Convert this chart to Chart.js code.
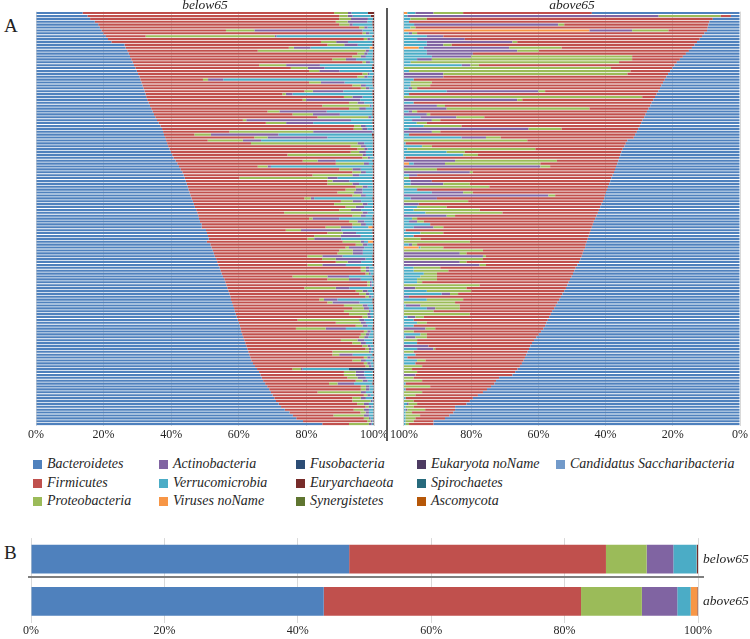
<!DOCTYPE html>
<html>
<head>
<meta charset="utf-8">
<script src="https://cdn.jsdelivr.net/npm/chart.js@4.4.1/dist/chart.umd.min.js"></script>
<style>
  html, body { margin: 0; padding: 0; background: #fff; }
  #page { position: relative; width: 750px; height: 639px; overflow: hidden; font-family: "Liberation Serif", "Times New Roman", serif; }
  .box { position: absolute; }
  .letter { position: absolute; font-size: 19px; color: #222; line-height: 20px; }
  .leg { position: absolute; font-style: italic; font-size: 14px; color: #262626; white-space: nowrap; line-height: 16px; }
  .leg i { display: inline-block; width: 9px; height: 9px; margin-right: 5px; vertical-align: -1px; }
</style>
</head>
<body>
<div id="page">
  <div class="letter" style="left:4px;top:16px">A</div>
  <div class="letter" style="left:4px;top:543px">B</div>
  <div class="box" style="left:0;top:0;width:390px;height:445px"><canvas id="belowChart" width="390" height="445"></canvas></div>
  <div class="box" style="left:388px;top:0;width:362px;height:445px"><canvas id="aboveChart" width="362" height="445"></canvas></div>
  <div class="box" style="left:386px;top:8px;width:2px;height:433px;background:#595959"></div>
  <div id="legend"></div>
  <div class="box" style="left:0;top:525px;width:750px;height:114px"><canvas id="summaryChart" width="750" height="114"></canvas></div>
  <div class="box" style="left:28px;top:576px;width:676px;height:2px;background:#7f7f7f"></div>
</div>
<script>
// ---- colours (Excel palette) ----
const phylumNames = [
    'Bacteroidetes', 'Firmicutes', 'Proteobacteria', 'Actinobacteria', 'Verrucomicrobia',
    'Viruses noName', 'Fusobacteria', 'Euryarchaeota', 'Synergistetes', 'Eukaryota noName',
    'Spirochaetes', 'Ascomycota', 'Candidatus Saccharibacteria'
];
const phylumColors = [
    '#4F81BD', '#C0504D', '#9BBB59', '#8064A2', '#4BACC6',
    '#F79646', '#2C4D75', '#772C2A', '#5F7530', '#4D3B62',
    '#276A7C', '#B65708', '#729ACA'
];

// ---- panel A, below65 (one value per sample, top row first) ----
const below65Bact = [
    13.8, 15.2, 16.0, 17.4, 18.4, 18.9, 19.4, 19.9, 20.8, 21.3,
    22.3, 26.2, 26.7, 27.0, 27.4, 27.8, 28.2, 28.6, 29.0, 29.4,
    29.8, 30.2, 30.6, 30.9, 31.2, 31.5, 31.8, 32.1, 32.4, 32.6,
    32.9, 33.3, 33.7, 34.1, 34.5, 34.9, 35.3, 35.8, 36.3, 36.8,
    37.3, 37.6, 37.9, 38.2, 38.5, 38.8, 39.1, 39.5, 39.9, 40.3,
    40.7, 41.3, 41.8, 42.3, 42.8, 43.3, 43.7, 44.0, 44.3, 44.6,
    44.9, 45.1, 45.4, 45.7, 46.0, 46.4, 46.7, 47.0, 47.4, 47.7,
    48.0, 48.2, 48.5, 49.0, 49.6, 50.3, 50.6, 50.9, 51.1, 51.3,
    51.6, 51.9, 52.3, 52.6, 52.9, 53.3, 53.6, 53.9, 54.3, 54.6,
    54.9, 55.3, 55.7, 56.0, 56.3, 56.6, 56.9, 57.2, 57.5, 57.7,
    58.0, 58.3, 58.6, 58.8, 59.1, 59.4, 59.7, 60.0, 60.3, 60.5,
    60.7, 61.0, 61.3, 61.6, 61.9, 62.2, 62.5, 62.8, 63.1, 63.4,
    63.7, 64.2, 64.8, 65.4, 66.0, 66.4, 66.8, 67.2, 67.8, 68.4,
    69.0, 69.5, 70.0, 70.5, 71.0, 71.8, 72.5, 73.6, 75.0, 76.0,
    77.0, 79.0, 84.7
];
const below65Firm = [
    74.4, 74.5, 73.7, 71.3, 71.3, 76.7, 36.8, 76.7, 11.8, 75.7,
    62.0, 60.0, 48.7, 38.6, 67.7, 65.8, 59.5, 68.0, 37.0, 46.0,
    51.0, 66.4, 64.5, 18.5, 49.6, 62.1, 64.3, 47.3, 40.5, 58.5,
    46.0, 59.3, 51.0, 58.5, 34.0, 41.0, 48.0, 25.4, 31.7, 57.3,
    56.7, 19.6, 9.0, 26.4, 12.3, 24.8, 54.0, 55.6, 53.2, 34.1,
    55.9, 37.6, 46.9, 23.3, 46.9, 50.3, 38.1, 16.2, 41.9, 41.6,
    49.7, 46.5, 43.8, 47.9, 33.4, 43.8, 41.5, 44.6, 42.3, 25.7,
    45.6, 32.6, 44.1, 44.6, 37.1, 23.6, 35.6, 31.4, 29.2, 40.8,
    43.0, 39.7, 37.4, 36.6, 27.4, 31.4, 35.1, 26.4, 41.8, 41.5,
    42.6, 20.6, 30.5, 42.0, 41.7, 22.8, 37.7, 38.4, 40.0, 26.1,
    28.2, 32.8, 35.0, 32.3, 33.5, 37.2, 17.7, 28.7, 34.3, 16.4,
    36.3, 35.1, 34.3, 28.6, 31.7, 34.4, 35.0, 24.9, 24.6, 33.6,
    29.9, 32.8, 32.7, 10.5, 25.1, 24.7, 25.3, 27.4, 18.9, 27.7,
    27.1, 13.8, 27.0, 23.1, 22.6, 23.2, 25.0, 20.4, 21.0, 12.0,
    20.0, 19.0, 7.9
];
const below65Proteo = [
    4.1, 2.5, 3.5, 3.5, 3.0, 1.5, 8.4, 1.0, 38.4, 1.0,
    4.5, 5.0, 1.5, 31.9, 2.0, 2.5, 4.0, 1.0, 8.0, 5.0,
    3.0, 1.5, 2.0, 1.5, 3.5, 2.5, 1.5, 2.5, 1.0, 2.5,
    1.0, 2.5, 14.0, 3.0, 3.5, 6.0, 15.0, 1.0, 6.0, 2.0,
    2.5, 24.8, 4.9, 3.9, 10.4, 31.5, 3.0, 2.0, 2.5, 22.2,
    1.5, 4.4, 8.3, 2.9, 3.9, 2.5, 11.8, 26.0, 1.5, 7.4,
    2.0, 3.0, 4.9, 2.5, 1.9, 3.5, 8.4, 3.0, 3.5, 23.2,
    2.5, 1.0, 2.5, 2.5, 4.5, 4.5, 4.5, 7.9, 2.0, 5.4,
    2.0, 1.0, 4.0, 4.5, 4.4, 4.0, 3.5, 4.4, 1.5, 1.5,
    1.0, 10.3, 6.4, 0.8, 0.8, 9.3, 2.0, 2.0, 1.0, 1.4,
    1.5, 5.5, 3.4, 7.4, 5.4, 1.5, 18.2, 7.4, 2.0, 8.8,
    1.0, 1.5, 1.5, 4.9, 2.5, 1.5, 1.0, 10.8, 2.0, 1.0,
    2.5, 1.0, 1.0, 2.5, 3.5, 3.5, 3.0, 2.0, 2.5, 1.5,
    1.5, 12.8, 1.0, 2.5, 5.4, 2.0, 1.0, 3.0, 1.5, 9.0,
    1.5, 1.0, 5.9
];
const below65Actino = [
    1.0, 1.5, 5.0, 5.8, 1.0, 1.0, 32.0, 1.0, 0.5, 0.8,
    3.5, 4.0, 5.0, 1.0, 1.0, 1.5, 3.0, 1.2, 10.0, 5.0,
    6.0, 0.5, 1.0, 4.5, 7.0, 1.5, 1.0, 9.0, 2.0, 3.0,
    16.0, 2.0, 0.5, 2.0, 14.0, 8.0, 0.8, 31.0, 8.0, 1.5,
    1.5, 17.5, 20.0, 17.7, 5.4, 2.0, 1.5, 1.0, 2.0, 1.0,
    0.7, 5.4, 1.5, 1.0, 2.5, 1.5, 2.0, 3.0, 5.0, 2.0,
    1.5, 2.0, 2.5, 1.5, 1.0, 2.5, 1.5, 2.5, 3.0, 1.5,
    1.5, 7.9, 2.0, 1.5, 3.5, 12.0, 4.0, 5.9, 8.0, 1.0,
    1.5, 4.5, 3.0, 3.0, 6.0, 8.8, 4.0, 7.0, 1.0, 1.0,
    0.5, 6.4, 3.5, 0.5, 0.5, 4.0, 1.5, 1.0, 0.7, 4.0,
    8.0, 1.5, 1.5, 0.5, 0.8, 1.0, 1.5, 1.5, 1.5, 6.0,
    1.0, 1.0, 1.2, 2.0, 1.5, 0.8, 0.7, 0.5, 4.0, 1.0,
    1.5, 1.0, 0.7, 0.5, 2.5, 2.5, 2.5, 1.5, 4.9, 1.0,
    1.0, 1.5, 1.0, 1.5, 0.5, 1.5, 0.7, 1.5, 1.0, 1.5,
    0.5, 0.5, 0.8
];
const below65Verruco = [
    4.9, 5.3, 1.5, 1.5, 5.8, 1.5, 3.0, 1.2, 28.5, 1.0,
    7.2, 4.3, 17.6, 1.2, 1.5, 2.0, 4.8, 1.0, 15.5, 14.0,
    9.7, 1.2, 1.5, 44.1, 8.2, 2.0, 1.2, 8.6, 23.6, 3.0,
    3.6, 2.5, 0.5, 2.0, 13.5, 9.6, 0.6, 6.3, 17.5, 2.0,
    1.6, 0.3, 27.7, 13.3, 33.0, 2.5, 2.0, 1.5, 2.0, 2.0,
    1.0, 10.8, 1.2, 30.0, 3.5, 2.0, 4.0, 10.3, 6.8, 4.0,
    1.5, 3.0, 3.0, 2.0, 17.2, 3.4, 1.6, 2.5, 3.4, 1.7,
    2.0, 9.8, 2.5, 2.0, 4.8, 9.1, 4.8, 3.5, 9.2, 1.2,
    1.5, 2.5, 2.9, 2.9, 8.8, 2.0, 3.4, 7.8, 1.2, 1.2,
    0.8, 6.9, 3.5, 0.5, 0.5, 6.8, 1.5, 1.2, 0.6, 10.3,
    3.8, 1.6, 1.2, 0.8, 1.0, 0.7, 2.6, 2.1, 1.5, 7.8,
    0.8, 1.2, 1.5, 2.5, 2.0, 0.9, 0.6, 0.8, 5.8, 0.8,
    2.0, 0.8, 0.6, 13.7, 2.5, 2.5, 2.0, 1.5, 5.4, 1.2,
    1.2, 2.0, 0.8, 2.0, 0.3, 1.3, 0.6, 1.3, 1.3, 1.3,
    0.8, 0.3, 0.5
];
const below65Eury = [
    1.8, 1.0, 0.3, 0.5, 0.5, 0.4, 0.4, 0.2, 0.5, 0.2,
    0.5, 0.5, 0.5, 0.3, 0.4, 0.4, 0.5, 0.2, 0.5, 0.6,
    0.5, 0.2, 0.4, 0.5, 0.5, 0.4, 0.2, 0.5, 0.5, 0.4,
    0.5, 0.4, 0.3, 0.4, 0.5, 0.5, 0.3, 0.5, 0.5, 0.4,
    0.4, 0.2, 0.6, 0.5, 0.4, 0.4, 0.4, 0.4, 0.4, 0.4,
    0.2, 0.5, 0.3, 0.5, 0.4, 0.4, 0.4, 0.5, 0.5, 0.4,
    0.4, 0.4, 0.4, 0.4, 0.5, 0.4, 0.3, 0.4, 0.4, 0.2,
    0.4, 0.5, 0.4, 0.4, 0.5, 0.5, 0.5, 0.4, 0.5, 0.3,
    0.4, 0.4, 0.4, 0.4, 0.5, 0.5, 0.4, 0.5, 0.2, 0.2,
    0.2, 0.5, 0.4, 0.2, 0.2, 0.5, 0.4, 0.2, 0.2, 0.5,
    0.5, 0.3, 0.3, 0.2, 0.2, 0.2, 0.3, 0.3, 0.4, 0.5,
    0.2, 0.2, 0.2, 0.4, 0.4, 0.2, 0.2, 0.2, 0.5, 0.2,
    0.4, 0.2, 0.2, 0.0, 0.4, 0.4, 0.4, 0.4, 0.5, 0.2,
    0.2, 0.4, 0.2, 0.4, 0.2, 0.2, 0.2, 0.2, 0.2, 0.2,
    0.2, 0.2, 0.2
];
// sparse phyla: [row, percent]
const below65Viruses = [[12, 0.8], [74, 1.2], [79, 1.5]];
const below65Fuso = [[123, 7.4]];

// ---- panel A, above65 ----
const above65Bact = [
    44.1, 2.7, 8.1, 9.1, 9.4, 9.6, 9.8, 10.6, 11.3, 12.0,
    12.8, 13.5, 14.3, 15.2, 16.1, 17.0, 17.9, 18.8, 19.5, 20.1,
    20.8, 21.4, 21.9, 22.4, 22.9, 23.4, 23.8, 24.3, 24.8, 25.3,
    25.8, 26.3, 26.7, 27.2, 27.7, 28.1, 28.5, 29.0, 29.4, 29.8,
    30.3, 30.7, 31.2, 31.6, 33.5, 34.0, 34.4, 34.9, 35.3, 35.6,
    36.0, 36.2, 36.5, 36.9, 37.2, 37.5, 37.9, 38.3, 38.6, 38.9,
    39.3, 39.6, 39.9, 40.2, 40.4, 40.8, 41.2, 41.6, 42.0, 42.3,
    42.7, 43.1, 43.5, 43.8, 44.1, 44.4, 44.7, 45.0, 45.3, 45.6,
    45.9, 46.1, 46.5, 46.8, 47.1, 47.5, 47.9, 48.4, 48.9, 49.3,
    49.7, 50.1, 50.6, 51.0, 51.4, 51.8, 52.3, 52.8, 53.3, 53.8,
    54.3, 54.8, 55.3, 55.9, 56.3, 56.8, 57.2, 57.6, 58.0, 58.5,
    59.2, 59.9, 60.6, 61.3, 61.9, 62.4, 62.8, 63.2, 63.6, 64.0,
    64.4, 64.9, 65.5, 66.2, 66.9, 67.7, 71.7, 72.6, 73.1, 74.1,
    75.3, 76.5, 78.0, 79.5, 80.4, 81.4, 84.8, 84.8, 85.3, 86.5,
    87.8, 91.2, 91.2
];
const above65Firm = [
    38.3, 3.0, 85.1, 89.4, 42.9, 87.0, 11.5, 85.5, 77.0, 69.9,
    53.5, 72.3, 38.8, 44.7, 63.4, 15.1, 14.2, 17.2, 58.2, 18.3,
    11.8, 12.1, 66.4, 74.7, 68.8, 68.8, 72.3, 33.7, 73.7, 3.8,
    39.0, 70.8, 61.1, 17.6, 68.4, 64.1, 47.6, 60.2, 63.8, 53.1,
    22.8, 58.5, 67.3, 39.6, 29.8, 65.5, 57.3, 26.0, 46.6, 42.4,
    63.5, 18.3, 22.9, 19.6, 53.0, 42.0, 58.2, 60.2, 53.1, 41.5,
    35.3, 56.5, 39.6, 14.8, 49.8, 40.1, 54.4, 45.7, 35.5, 28.4,
    42.1, 53.0, 50.6, 48.4, 44.2, 55.1, 43.6, 52.1, 49.8, 34.8,
    50.2, 42.2, 30.0, 34.6, 28.5, 29.0, 33.5, 27.2, 40.3, 37.5,
    40.5, 40.1, 39.6, 43.6, 26.1, 29.6, 27.7, 31.1, 45.2, 28.6,
    30.5, 28.6, 28.1, 35.3, 24.1, 37.3, 39.9, 35.6, 39.1, 32.2,
    37.9, 33.3, 32.6, 34.8, 34.2, 30.3, 27.9, 33.9, 33.0, 35.0,
    29.2, 31.7, 29.1, 31.4, 29.2, 28.9, 25.4, 22.0, 26.4, 18.1,
    24.2, 18.1, 18.6, 20.0, 16.7, 14.7, 12.3, 8.9, 12.3, 8.7,
    8.8, 5.9, 7.3
];
const above65Proteo = [
    8.8, 18.5, 4.9, 0, 1.8, 1.5, 10.8, 1.5, 0, 0,
    1.4, 2.5, 15.6, 6.4, 0, 47.9, 59.6, 62.0, 2.5, 61.6,
    65.9, 54.8, 0, 0, 6.3, 5.8, 1.5, 2.0, 0, 70.9,
    1.5, 0, 2.4, 42.5, 1.5, 1.0, 8.3, 2.5, 3.0, 11.2,
    9.8, 2.5, 0, 4.4, 36.7, 0, 2.9, 38.1, 5.4, 4.4,
    0, 30.3, 28.4, 2.9, 9.8, 0.9, 0, 1.5, 0, 7.9,
    25.4, 0, 2.9, 2.0, 0, 19.1, 0, 8.8, 19.6, 22.9,
    2.5, 1.5, 2.0, 0, 2.9, 0, 6.8, 0, 4.9, 19.6,
    1.5, 6.8, 23.5, 2.0, 0.9, 23.5, 2.0, 1.9, 7.9, 10.3,
    3.9, 4.9, 5.9, 1.5, 22.5, 15.2, 13.2, 2.4, 0, 10.8,
    15.2, 11.7, 7.3, 8.8, 19.6, 2.5, 0, 2.9, 0, 2.9,
    2.9, 1.9, 3.4, 3.9, 0, 0, 0.5, 2.9, 0, 0,
    2.5, 0, 5.4, 2.4, 3.9, 0, 2.9, 5.4, 0, 7.8,
    0, 5.4, 3.4, 0, 2.9, 2.5, 2.4, 5.3, 1.9, 4.3,
    2.9, 2.4, 1.0
];
const above65Actino = [
    5.4, 74.8, 0, 0, 42.9, 0, 12.7, 1.0, 4.9, 14.2,
    25.5, 4.9, 25.4, 26.9, 13.7, 11.7, 4.4, 0, 2.6, 0,
    0, 11.7, 11.7, 0, 0, 0, 1.0, 27.3, 0, 0,
    33.7, 0, 9.8, 12.7, 1.0, 6.8, 10.7, 5.9, 0, 0,
    35.6, 8.3, 0, 7.3, 0, 0, 0, 0, 0, 0,
    0, 15.2, 9.3, 40.6, 0, 19.6, 2.4, 0, 6.3, 9.7,
    0, 0, 9.3, 43.0, 7.8, 0, 4.4, 0, 0, 0,
    12.7, 0, 2.4, 0, 5.9, 0, 0, 0, 0, 0,
    1.0, 0, 0, 16.6, 23.5, 0, 16.6, 22.5, 0, 0,
    0, 0, 0, 0, 0, 3.4, 0, 2.5, 1.5, 0,
    0, 4.4, 2.5, 0, 0, 2.4, 0, 0, 0, 6.4,
    0, 0, 2.9, 0, 0, 7.3, 4.9, 0, 0, 0,
    0, 0, 0, 0, 0, 3.4, 0, 0, 0, 0,
    0, 0, 0, 0, 0, 0.5, 0, 0.5, 0, 0,
    0, 0, 0
];
const above65Verruco = [
    2.4, 1.0, 1.9, 1.5, 3.0, 1.9, 0, 1.4, 6.8, 3.9,
    6.8, 6.8, 1.5, 6.8, 6.8, 8.3, 3.9, 2.0, 17.2, 0,
    1.5, 0, 0, 2.9, 2.0, 2.0, 1.4, 12.7, 1.5, 0,
    0, 2.9, 0, 0, 1.4, 0, 4.9, 2.4, 3.8, 5.9,
    1.5, 0, 1.5, 17.1, 0, 0.5, 5.4, 1.0, 12.7, 17.6,
    0.5, 0, 1.4, 0, 0, 0, 1.5, 0, 2.0, 2.0,
    0, 3.9, 8.3, 0, 2.0, 0, 0, 3.9, 2.9, 6.4,
    0, 2.4, 1.5, 7.8, 2.9, 0.5, 4.9, 2.9, 0, 0,
    1.4, 0.5, 0, 0, 0, 0, 0, 0, 2.9, 2.9,
    5.9, 4.9, 3.9, 3.9, 0, 0, 6.8, 11.2, 0, 6.8,
    0, 0.5, 6.8, 0, 0, 1.0, 2.9, 3.9, 2.9, 0,
    0, 4.9, 0.5, 0, 3.9, 0, 3.9, 0, 3.4, 1.0,
    3.9, 3.4, 0, 0, 0, 0, 0, 0, 0.5, 0,
    0.5, 0, 0, 0.5, 0, 0.9, 0.5, 0.5, 0.5, 0.5,
    0.5, 0.5, 0.5
];
const above65Viruses = [[0, 1.0], [6, 55.2], [12, 4.4], [52, 1.5], [81, 4.4]];

// ---- panel B, group means ----
const groups = ['below65', 'above65'];
const meanBact = [47.7, 43.8];
const meanFirm = [38.5, 38.5];
const meanProteo = [6.1, 9.1];
const meanActino = [4.0, 5.3];
const meanVerruco = [3.5, 2.0];
const meanViruses = [0.05, 1.0];
const meanEury = [0.15, 0.1];

const tickNames = ['0%', '20%', '40%', '60%', '80%', '100%'];

// ---- helpers ----
function fromPairs(pairs, n) {
    const out = new Array(n).fill(0);
    pairs.forEach(([i, v]) => { out[i] = v; });
    return out;
}
// 100% stacked: each sample scaled to its own total
function toPercent(series) {
    const n = series[0].length;
    const totals = [];
    for (let i = 0; i < n; i++) totals.push(series.reduce((s, a) => s + a[i], 0));
    return series.map(a => a.map((v, i) => v / totals[i] * 100));
}
function colorOf(name) { return phylumColors[phylumNames.indexOf(name)]; }

const serif = '"Liberation Serif", "Times New Roman", serif';
const textColor = '#262626';

function sampleChart(id, title, names, series, reverse, padding) {
    const pct = toPercent(series);
    const labels = series[0].map((_, i) => 'S' + (i + 1));
    new Chart(document.getElementById(id), {
        type: 'bar',
        data: {
            labels: labels,
            datasets: names.map((nm, k) => ({
                label: nm,
                data: pct[k],
                backgroundColor: colorOf(nm),
                borderWidth: 0,
                categoryPercentage: 1,
                barPercentage: 0.72
            }))
        },
        options: {
            indexAxis: 'y',
            responsive: false,
            animation: false,
            layout: { padding: padding },
            plugins: {
                legend: { display: false },
                tooltip: { enabled: false },
                title: {
                    display: true,
                    text: title,
                    fullSize: false,
                    color: textColor,
                    padding: 0,
                    font: { family: serif, size: 13.5, style: 'italic', weight: 'normal', lineHeight: 0.86 }
                }
            },
            scales: {
                x: {
                    stacked: true,
                    reverse: reverse,
                    min: 0,
                    max: 100,
                    ticks: {
                        stepSize: 20,
                        padding: 2,
                        color: textColor,
                        font: { family: serif, size: 12 },
                        callback: (v) => tickNames[v / 20]
                    },
                    grid: { color: '#d9d9d9', drawTicks: false },
                    border: { display: false }
                },
                y: { stacked: true, display: false }
            }
        }
    });
}

const n = below65Bact.length;
const stackNames = ['Bacteroidetes', 'Firmicutes', 'Proteobacteria', 'Actinobacteria',
    'Verrucomicrobia', 'Viruses noName', 'Fusobacteria', 'Euryarchaeota'];

sampleChart('belowChart', 'below65', stackNames, [
    below65Bact, below65Firm, below65Proteo, below65Actino, below65Verruco,
    fromPairs(below65Viruses, n), fromPairs(below65Fuso, n), below65Eury
], false, { left: 36, right: 15, top: 0, bottom: 1 });

sampleChart('aboveChart', 'above65', stackNames.slice(0, 6), [
    above65Bact, above65Firm, above65Proteo, above65Actino, above65Verruco,
    fromPairs(above65Viruses, above65Bact.length)
], true, { left: 13, right: 9, top: 0, bottom: 1 });

// ---- panel B ----
const meanSeries = [meanBact, meanFirm, meanProteo, meanActino, meanVerruco, meanViruses, meanEury];
const meanNames = ['Bacteroidetes', 'Firmicutes', 'Proteobacteria', 'Actinobacteria',
    'Verrucomicrobia', 'Viruses noName', 'Euryarchaeota'];
const meanPct = toPercent(meanSeries);

new Chart(document.getElementById('summaryChart'), {
    type: 'bar',
    data: {
        labels: groups,
        datasets: meanNames.map((nm, k) => ({
            label: nm,
            data: meanPct[k],
            backgroundColor: colorOf(nm),
            borderWidth: 0,
            categoryPercentage: 1,
            barPercentage: 0.68
        }))
    },
    options: {
        indexAxis: 'y',
        responsive: false,
        animation: false,
        layout: { padding: { left: 31, right: 0, top: 0, bottom: 0 } },
        plugins: { legend: { display: false }, tooltip: { enabled: false } },
        scales: {
            x: {
                stacked: true,
                min: 0,
                max: 100,
                ticks: {
                    stepSize: 20,
                    padding: 1,
                    color: textColor,
                    font: { family: serif, size: 12 },
                    callback: (v) => tickNames[v / 20]
                },
                grid: { color: '#d9d9d9', drawTicks: false },
                border: { display: false }
            },
            y: {
                stacked: true,
                position: 'right',
                grid: { display: false, drawTicks: false },
                border: { display: false },
                ticks: { padding: 5, color: textColor, font: { family: serif, size: 13.5, style: 'italic' } },
                afterFit: (scale) => { scale.width = 52; }
            }
        }
    }
});

// ---- shared legend (column-major, 3 rows) ----
const legendColX = [33, 159, 296, 417, 556];
const legendRowY = [464, 483, 501];
const legendBox = document.getElementById('legend');
phylumNames.forEach((nm, k) => {
    const col = Math.floor(k / 3), row = k % 3;
    const el = document.createElement('div');
    el.className = 'leg';
    el.style.left = legendColX[col] + 'px';
    el.style.top = (legendRowY[row] - 8) + 'px';
    el.innerHTML = '<i style="background:' + phylumColors[k] + '"></i>' + nm;
    legendBox.appendChild(el);
});
</script>
</body>
</html>
